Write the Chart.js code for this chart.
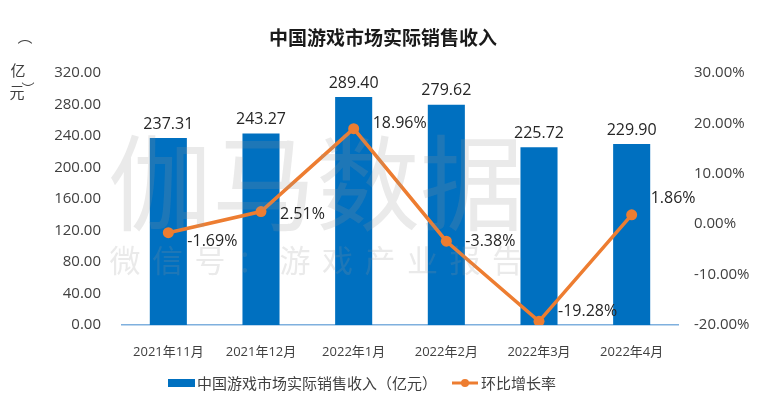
<!DOCTYPE html>
<html>
<head>
<meta charset="utf-8">
<script src="https://cdn.jsdelivr.net/npm/chart.js@4/dist/chart.umd.min.js"></script>
<style>
  html, body { margin: 0; padding: 0; background: #fff; }
  #wrap { width: 763px; height: 399px; }
</style>
</head>
<body>
<div id="wrap"><canvas id="marketChart" width="763" height="399"></canvas></div>
<script>
// Data
const months = ['2021年11月', '2021年12月', '2022年1月', '2022年2月', '2022年3月', '2022年4月'];
const revenue = [237.31, 243.27, 289.40, 279.62, 225.72, 229.90];   // 亿元
const growth = [-1.69, 2.51, 18.96, -3.38, -19.28, 1.86];          // 环比 %
const leftTicks = [0, 40, 80, 120, 160, 200, 240, 280, 320];
const rightTicks = [-20, -10, 0, 10, 20, 30];

const titleText = '中国游戏市场实际销售收入';
const revenueName = '中国游戏市场实际销售收入（亿元）';
const growthName = '环比增长率';

const BLUE = '#0070C0';
const ORANGE = '#ED7D31';
const TEXT = '#404040';
const LABEL = '#262626';
const FONT = '"Open Sans", "Noto Sans CJK SC", sans-serif';
const CJK = '"Noto Sans CJK SC", sans-serif';

// small vertical nudges for the line labels (Excel "right" placement)
const lineLabelNudge = [9, 3, -5, 0, -10, -16];

const decorPlugin = {
    id: 'decor',
    afterDatasetsDraw(chart) {
        const ctx = chart.ctx;
        ctx.save();

        // watermark sits over the bars, faint
        ctx.fillStyle = 'rgba(150, 150, 150, 0.2)';
        ctx.font = '104px ' + CJK;
        ctx.textBaseline = 'middle';
        ctx.textAlign = 'left';
        ctx.fillText('伽马数据', 108, 183);
        ctx.font = '31px ' + CJK;
        ctx.textAlign = 'center';
        Array.from('微信号：游戏产业报告').forEach(function(ch, i) {
            ctx.fillText(ch, 125 + i * 42.5, 260);
        });

        ctx.fillStyle = LABEL;
        ctx.font = '16px ' + FONT;

        // bar labels
        const barMeta = chart.getDatasetMeta(1);
        ctx.textAlign = 'center';
        ctx.textBaseline = 'bottom';
        barMeta.data.forEach(function(bar, i) {
            ctx.fillText(revenue[i].toFixed(2), bar.x, bar.y - 6);
        });

        // line labels
        const lineMeta = chart.getDatasetMeta(0);
        ctx.textAlign = 'left';
        ctx.textBaseline = 'middle';
        lineMeta.data.forEach(function(pt, i) {
            ctx.fillText(growth[i].toFixed(2) + '%', pt.x + 19, pt.y + lineLabelNudge[i]);
        });
        ctx.restore();
    },
    afterDraw(chart) {
        const ctx = chart.ctx;
        ctx.save();

        // title
        ctx.fillStyle = '#1a1a1a';
        ctx.font = 'bold 19px ' + CJK;
        ctx.textAlign = 'center';
        ctx.textBaseline = 'middle';
        ctx.fillText(titleText, 383, 38);

        // unit label, written vertically
        ctx.fillStyle = TEXT;
        ctx.font = '15px ' + CJK;
        ctx.fillText('︵', 25, 36);
        ctx.fillText('亿', 18, 70);
        ctx.fillText('元', 17, 92);
        ctx.font = '13px ' + CJK;
        ctx.fillText('︶', 28, 88);

        // legend
        const ly = 383;
        ctx.fillStyle = BLUE;
        ctx.fillRect(168, ly - 4, 27, 8);
        ctx.fillStyle = TEXT;
        ctx.font = '15px ' + CJK;
        ctx.textAlign = 'left';
        ctx.fillText(revenueName, 197, ly);

        ctx.strokeStyle = ORANGE;
        ctx.lineWidth = 3;
        ctx.beginPath();
        ctx.moveTo(452, ly);
        ctx.lineTo(478, ly);
        ctx.stroke();
        ctx.fillStyle = ORANGE;
        ctx.beginPath();
        ctx.arc(465, ly, 4, 0, Math.PI * 2);
        ctx.fill();
        ctx.fillStyle = TEXT;
        ctx.fillText(growthName, 481, ly);
        ctx.restore();
    }
};

const chart = new Chart(document.getElementById('marketChart'), {
    type: 'bar',
    data: {
        labels: months,
        datasets: [
            {
                type: 'line',
                label: growthName,
                data: growth,
                yAxisID: 'y1',
                borderColor: ORANGE,
                backgroundColor: ORANGE,
                borderWidth: 3.5,
                pointRadius: 5.5,
                pointBackgroundColor: ORANGE,
                pointBorderWidth: 0,
                tension: 0,
                order: 0
            },
            {
                type: 'bar',
                label: revenueName,
                data: revenue,
                yAxisID: 'y',
                backgroundColor: BLUE,
                categoryPercentage: 1,
                barPercentage: 0.4,
                order: 1
            }
        ]
    },
    options: {
        responsive: false,
        animation: false,
        layout: { padding: { top: 73, left: 0, right: 0, bottom: 0 } },
        plugins: {
            legend: { display: false },
            title: { display: false },
            tooltip: { enabled: false }
        },
        scales: {
            x: {
                grid: { display: false, drawTicks: false },
                border: { display: true, color: '#7FB0DE', width: 1.5 },
                ticks: { color: TEXT, font: { size: 13, family: FONT }, padding: 19, maxRotation: 0 },
                afterFit: function(scale) { scale.height = 74; }
            },
            y: {
                position: 'left',
                min: 0,
                max: 320,
                grid: { display: false, drawTicks: false },
                border: { display: false },
                afterBuildTicks: function(scale) {
                    scale.ticks = leftTicks.map(function(v) { return { value: v }; });
                },
                ticks: {
                    color: TEXT,
                    font: { size: 15, family: FONT },
                    padding: 21,
                    callback: function(v) { return Number(v).toFixed(2); }
                },
                afterFit: function(scale) { scale.width = 122; }
            },
            y1: {
                position: 'right',
                min: -20,
                max: 30,
                grid: { display: false, drawTicks: false },
                border: { display: false },
                afterBuildTicks: function(scale) {
                    scale.ticks = rightTicks.map(function(v) { return { value: v }; });
                },
                ticks: {
                    color: TEXT,
                    font: { size: 15, family: FONT },
                    padding: 16,
                    callback: function(v) { return Number(v).toFixed(2) + '%'; }
                },
                afterFit: function(scale) { scale.width = 85; }
            }
        }
    },
    plugins: [decorPlugin]
});
</script>
</body>
</html>
